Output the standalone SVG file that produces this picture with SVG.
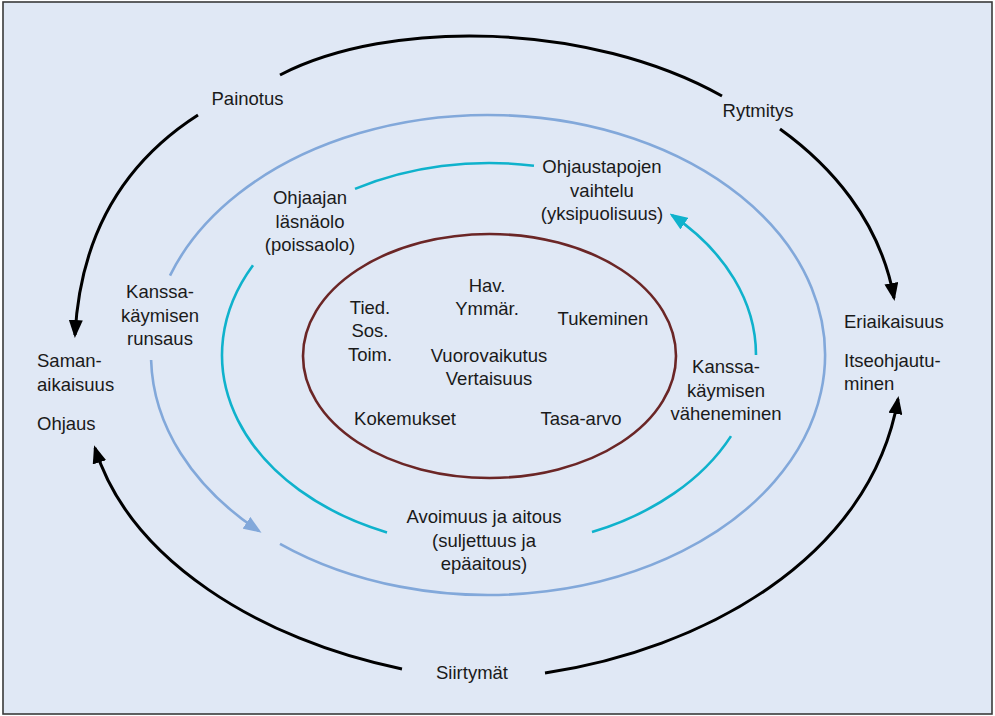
<svg xmlns="http://www.w3.org/2000/svg" width="995" height="716" viewBox="0 0 995 716">
  <style>
    text { font-family: "Liberation Sans", Arial, sans-serif; font-size: 18.5px; fill: #1a1a1a; }
    .c { text-anchor: middle; }
    .outer { fill: none; stroke: #000; stroke-width: 3; }
    .blue { fill: none; stroke: #82a8da; stroke-width: 2.6; }
    .cyan { fill: none; stroke: #0fb2cc; stroke-width: 2.6; }
    .core { fill: none; stroke: #6b2626; stroke-width: 2.6; }
  </style>
  <defs>
    <marker id="ahBlack" viewBox="0 0 18 14" refX="15" refY="7" markerWidth="18" markerHeight="14" markerUnits="userSpaceOnUse" orient="auto">
      <path d="M0,0 L18,7 L0,14 Z" fill="#000"/>
    </marker>
    <marker id="ahBlue" viewBox="0 0 18 14" refX="15" refY="7" markerWidth="18" markerHeight="14" markerUnits="userSpaceOnUse" orient="auto">
      <path d="M0,0 L18,7 L0,14 Z" fill="#82a8da"/>
    </marker>
    <marker id="ahCyan" viewBox="0 0 18 14" refX="15" refY="7" markerWidth="18" markerHeight="14" markerUnits="userSpaceOnUse" orient="auto">
      <path d="M0,0 L18,7 L0,14 Z" fill="#0fb2cc"/>
    </marker>
  </defs>

  <!-- frame -->
  <rect x="3" y="2" width="989" height="712" fill="#e0e8f5" stroke="#3a3a3a" stroke-width="1.6"/>

  <!-- rings and cycle arrows -->
  <g id="connectors">
    <!-- outer black cycle -->
    <path class="outer" d="M280,75 C390,18 590,22 722,96"/>
    <path class="outer" d="M198,115 C120,165 80,240 75,335" marker-end="url(#ahBlack)"/>
    <path class="outer" d="M780,129 C830,165 880,220 894,298" marker-end="url(#ahBlack)"/>
    <path class="outer" d="M402,669 C260,640 130,560 95,448" marker-end="url(#ahBlack)"/>
    <path class="outer" d="M545,673 C700,650 870,560 898,399" marker-end="url(#ahBlack)"/>

    <!-- blue ring -->
    <path class="blue" d="M170,275.6 A337,240 0 1 1 280,543.8"/>
    <path class="blue" d="M151.1,360 A337,240 0 0 0 259,531" marker-end="url(#ahBlue)"/>

    <!-- cyan ring -->
    <path class="cyan" d="M355,188.9 A267,192 0 0 1 534,165.7"/>
    <path class="cyan" d="M253,265.2 A267,192 0 0 0 387,532.4"/>
    <path class="cyan" d="M592,532.1 A267,192 0 0 0 731,436.1"/>
    <path class="cyan" d="M756,355 A267,192 0 0 0 672,215.2" marker-end="url(#ahCyan)"/>

    <!-- core ellipse -->
    <ellipse class="core" cx="489.5" cy="356" rx="186.5" ry="122"/>
  </g>

  <g id="painotus"><text class="c" x="247.5" y="105">Painotus</text></g>
  <g id="rytmitys"><text class="c" x="758" y="117">Rytmitys</text></g>
  <g id="ohjaustapojen">
    <text class="c" x="602" y="173">Ohjaustapojen</text>
    <text class="c" x="602" y="197">vaihtelu</text>
    <text class="c" x="602" y="220">(yksipuolisuus)</text>
  </g>
  <g id="ohjaajan">
    <text class="c" x="310" y="204">Ohjaajan</text>
    <text class="c" x="310" y="227.5">läsnäolo</text>
    <text class="c" x="310" y="251">(poissaolo)</text>
  </g>
  <g id="runsaus">
    <text class="c" x="160" y="298">Kanssa-</text>
    <text class="c" x="160" y="322">käymisen</text>
    <text class="c" x="160" y="345">runsaus</text>
  </g>
  <g id="samanaikaisuus">
    <text x="37" y="367">Saman-</text>
    <text x="37" y="391">aikaisuus</text>
    <text x="37" y="430">Ohjaus</text>
  </g>
  <g id="eriaikaisuus">
    <text x="844" y="328">Eriaikaisuus</text>
    <text x="844" y="367">Itseohjautu-</text>
    <text x="844" y="390">minen</text>
  </g>
  <g id="vaheneminen">
    <text class="c" x="726" y="373">Kanssa-</text>
    <text class="c" x="726" y="397">käymisen</text>
    <text class="c" x="726" y="420">väheneminen</text>
  </g>
  <g id="core">
    <text class="c" x="487" y="292">Hav.</text>
    <text class="c" x="487" y="315">Ymmär.</text>
    <text class="c" x="370" y="314">Tied.</text>
    <text class="c" x="370" y="337">Sos.</text>
    <text class="c" x="370" y="361">Toim.</text>
    <text class="c" x="603" y="325">Tukeminen</text>
    <text class="c" x="489" y="362">Vuorovaikutus</text>
    <text class="c" x="489" y="385">Vertaisuus</text>
    <text class="c" x="405" y="425">Kokemukset</text>
    <text class="c" x="581" y="425">Tasa-arvo</text>
  </g>
  <g id="avoimuus">
    <text class="c" x="484" y="523">Avoimuus ja aitous</text>
    <text class="c" x="484" y="547">(suljettuus ja</text>
    <text class="c" x="484" y="570">epäaitous)</text>
  </g>
  <g id="siirtymat"><text class="c" x="472" y="679">Siirtymät</text></g>
</svg>
